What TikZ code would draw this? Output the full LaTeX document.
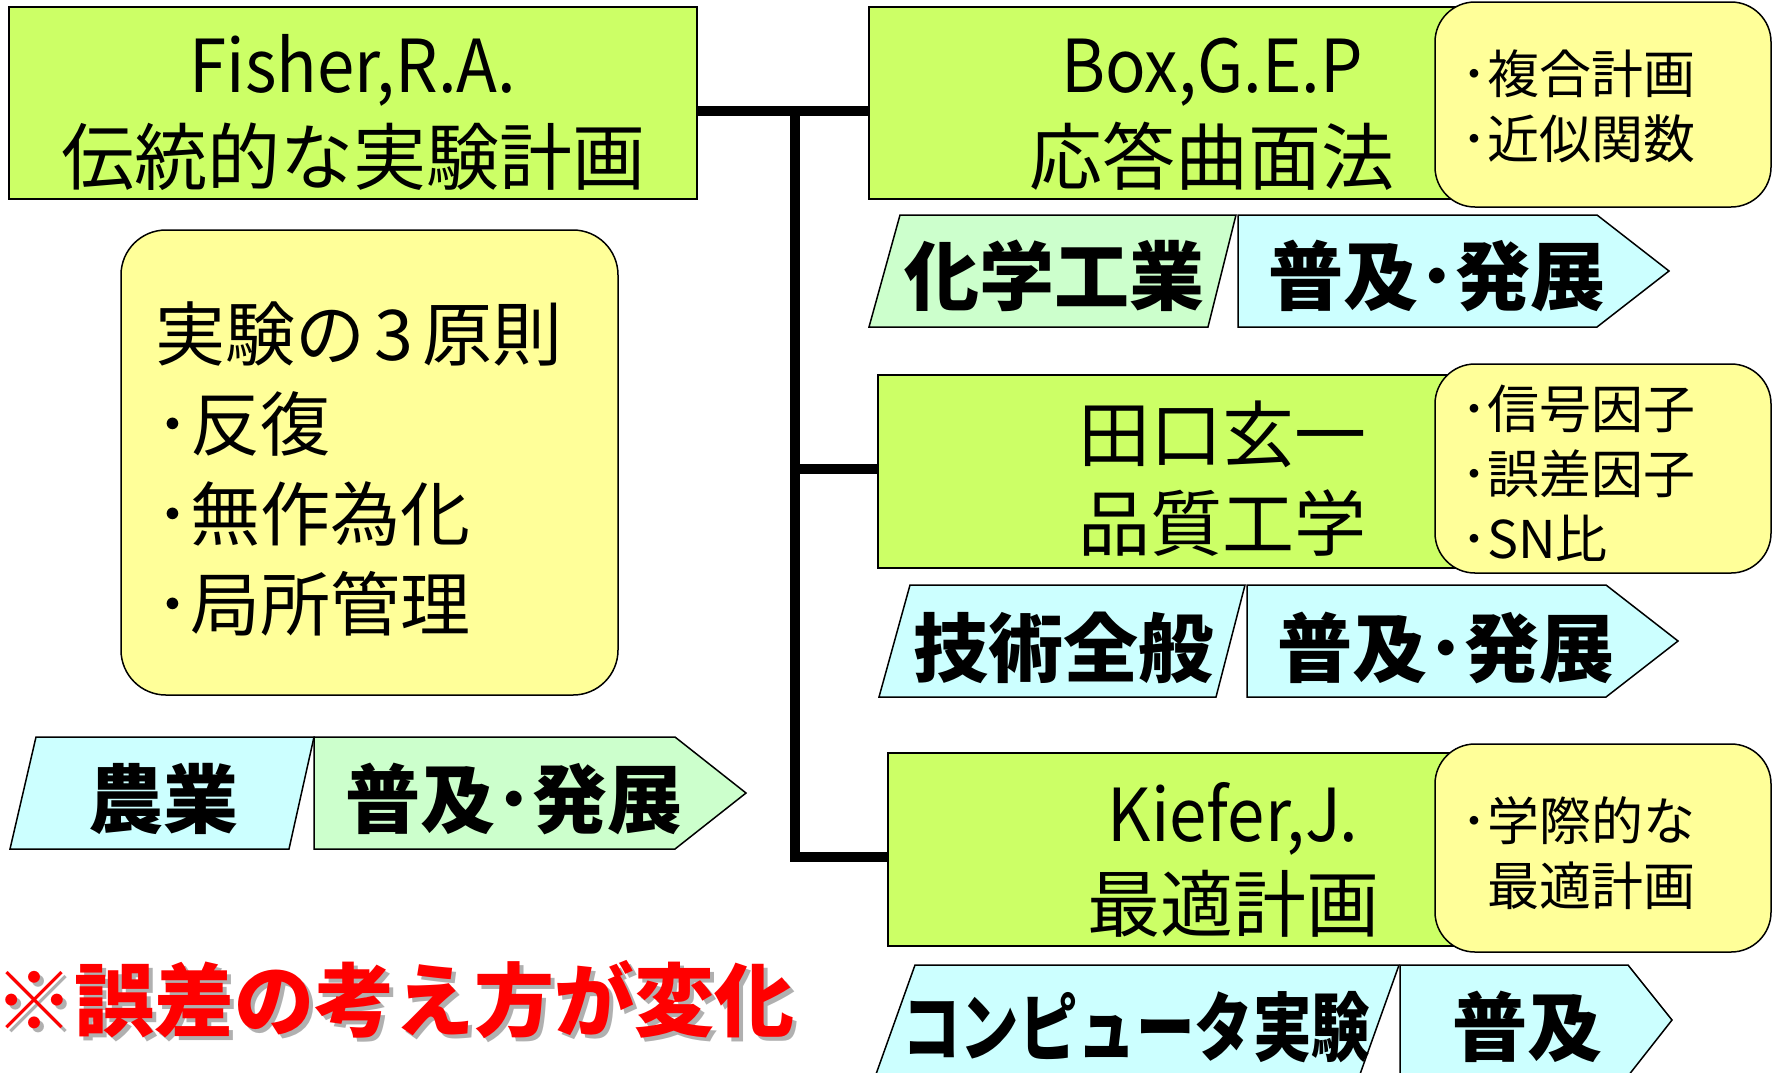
\documentclass[tikz,border=0pt]{standalone}
\usepackage{fontspec}
\setmainfont{Noto Sans CJK JP}
\definecolor{limeg}{HTML}{CCFF66}
\definecolor{yel}{HTML}{FFFF99}
\definecolor{lgreen}{HTML}{CCFFCC}
\definecolor{lcyan}{HTML}{CCFFFF}
\definecolor{shadowgray}{HTML}{B0B0B0}
\newcommand\myfs[2]{\fontsize{#1pt}{#2pt}\selectfont}
\tikzset{
  gbox/.style={draw=black, line width=1.5pt, fill=limeg, inner sep=0pt, outer sep=0pt},
  ybox/.style={draw=black, line width=1.5pt, fill=yel, rounded corners=40pt, inner sep=0pt, outer sep=0pt},
  shp/.style={draw=black, line width=1.5pt, line join=miter},
  conn/.style={draw=black, line width=10pt},
  title/.style={inner sep=0pt, align=center, font=\myfs{73}{92}},
  note/.style={inner sep=0pt, align=left, anchor=west, font=\myfs{52}{65}},
  lbl/.style={inner sep=0pt, font=\bfseries\myfs{75}{80}},
}
\begin{document}
\begin{tikzpicture}[x=1pt,y=-1pt]
\useasboundingbox (0,0) rectangle (1776,1072);
\clip (0,0) rectangle (1776,1072);

% green boxes
\node[gbox, minimum width=688pt, minimum height=192pt] (fisher) at (353,103) {};
\node[gbox, minimum width=611pt, minimum height=192pt] (box) at (1174.5,103) {};
\node[gbox, minimum width=602pt, minimum height=193pt] (taguchi) at (1179,471.5) {};
\node[gbox, minimum width=592pt, minimum height=193pt] (kiefer) at (1184,849.5) {};

% connectors
\coordinate (jtop) at (795,111);
\coordinate (tagw) at ([yshift=3pt]taguchi.west);
\coordinate (kiew) at ([yshift=-7pt]kiefer.west);
\draw[conn] ([yshift=-8pt]fisher.east) -- ([yshift=-8pt]box.west);
\draw[conn] (jtop) |- (kiew);
\draw[conn] (jtop |- tagw) -- (tagw);

% yellow boxes
\node[ybox, minimum width=336pt, minimum height=205pt] (y1) at (1603,104.5) {};
\node[ybox, minimum width=336pt, minimum height=209pt] (y2) at (1603,468.5) {};
\node[ybox, minimum width=336pt, minimum height=208pt] (y3) at (1603,848) {};
\node[ybox, rounded corners=45pt, minimum width=497pt, minimum height=465pt] (princ) at (369.5,462.5) {};

% arrows row 1
\draw[shp, fill=lgreen] (869,327) -- (900,215) -- (1236,215) -- (1208,327) -- cycle;
\draw[shp, fill=lcyan] (1238,215) -- (1597,215) -- (1669,271) -- (1597,327) -- (1238,327) -- cycle;
% row 2
\draw[shp, fill=lcyan] (879,697) -- (910,585) -- (1245,585) -- (1216,697) -- cycle;
\draw[shp, fill=lcyan] (1247,585) -- (1606,585) -- (1678,641) -- (1606,697) -- (1247,697) -- cycle;
% row 3
\draw[shp, fill=lcyan] (875,1077) -- (915,965) -- (1399,965) -- (1359,1077) -- cycle;
\draw[shp, fill=lcyan] (1400,965) -- (1628,965) -- (1672,1020) -- (1628,1076) -- (1400,1076) -- cycle;
% agriculture row
\draw[shp, fill=lcyan] (10,849) -- (36,737) -- (314,737) -- (289,849) -- cycle;
\draw[shp, fill=lgreen] (314,737) -- (675,737) -- (746,793) -- (675,849) -- (314,849) -- cycle;

% titles
\node[title] (fishertxt) at (353,113) {\scalebox{0.92}[1]{Fisher,R.A.}\\伝統的な実験計画};
\node[title] (boxtxt) at (1212,114) {\scalebox{0.92}[1]{Box,G.E.P}\\応答曲面法};
\node[title, font=\myfs{72}{89}] (taguchitxt) at (1222,478.5) {田口玄一\\品質工学};
\node[title, font=\myfs{73}{90}] (kiefertxt) at (1233,860) {\scalebox{0.92}[1]{Kiefer,J.}\\最適計画};

% notes
\node[note] (y1txt) at (1461,106) {･複合計画\\･近似関数};
\node[note] (y2txt) at (1461,473) {･信号因子\\･誤差因子\\･SN比};
\node[note] (y3txt) at (1461,853) {･学際的な\\\hphantom{･}最適計画};
\node[note, font=\myfs{70}{90}] (princtxt) at (155,469) {実験の\hspace{9pt}3\hspace{9pt}原則\\･反復\\･無作為化\\･局所管理};

% arrow labels
\node[lbl] (l1a) at (1054,276) {化学工業};
\node[lbl] (l1b) at (1437,276) {普及･発展};
\node[lbl] (l2a) at (1063,648) {技術全般};
\node[lbl] (l2b) at (1446,648) {普及･発展};
\node[lbl] (l3a) at (1136,1027) {\scalebox{0.78}[1]{コンピュータ実験}};
\node[lbl] (l3b) at (1527,1027) {普及};
\node[lbl] (l0a) at (163,799) {農業};
\node[lbl] (l0b) at (514,799) {普及･発展};

% red remark with shadow
\node[inner sep=0pt, anchor=west, font=\bfseries\myfs{80}{80}, text=shadowgray] (remarkshadow) at (-2,1004) {※誤差の考え方が変化};
\node[inner sep=0pt, anchor=west, font=\bfseries\myfs{80}{80}, text=red] (remark) at (-6,1000) {※誤差の考え方が変化};
\end{tikzpicture}
\end{document}
